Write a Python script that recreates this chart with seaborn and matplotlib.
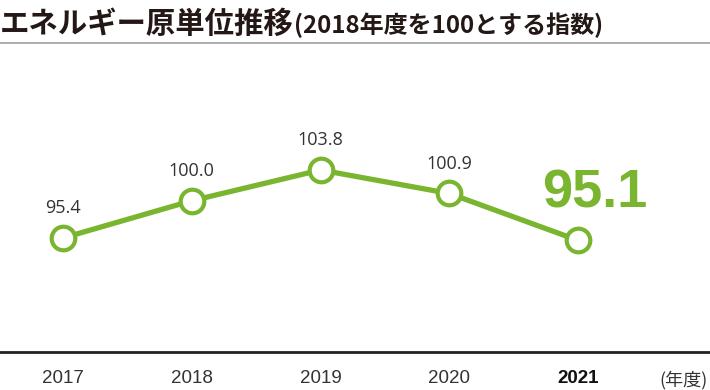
import numpy as np
import pandas as pd
import matplotlib
matplotlib.use("Agg")
import matplotlib.pyplot as plt
import seaborn as sns

# data
years = ["2017", "2018", "2019", "2020", "2021"]
index_values = [95.4, 100.0, 103.8, 100.9, 95.1]

green = "#7ab52f"
dark = "#333333"

sns.set_theme(style="white")
plt.rcParams["font.family"] = ["Noto Sans CJK JP", "DejaVu Sans"]

fig = plt.figure(figsize=(7.1, 3.9), dpi=100)
ax = fig.add_axes([0, 38 / 390, 1, 309 / 390])

df = pd.DataFrame({"pos": np.arange(len(years)), "value": index_values})
sns.lineplot(data=df, x="pos", y="value", ax=ax, color=green, lw=3.8,
             marker="o", markersize=17, markerfacecolor="white",
             markeredgecolor=green, markeredgewidth=3.0)

ax.set_xlim(-0.49, 5.025)
ax.set_ylim(81.3, 119.5)

# spines
for s in ["left", "right"]:
    ax.spines[s].set_visible(False)
ax.spines["top"].set_color("#a0a0a0")
ax.spines["top"].set_linewidth(1.2)
ax.spines["bottom"].set_color("#222222")
ax.spines["bottom"].set_linewidth(2)

ax.set_yticks([])
ax.set_xticks(df["pos"], years)
ax.tick_params(axis="x", length=0, pad=13, labelsize=13.5, colors=dark)
for lab in ax.get_xticklabels():
    lab.set_fontfamily(["Liberation Sans", "DejaVu Sans"])
ax.get_xticklabels()[-1].set_fontweight("bold")
ax.get_xticklabels()[-1].set_color("#111111")
ax.set_xlabel("")
ax.set_ylabel("")

# value labels
for i, v in enumerate(index_values[:-1]):
    ax.annotate(f"{v:.1f}", (i, v), xytext=(0, 15), textcoords="offset points",
                ha="center", va="bottom", fontsize=13, color=dark,
                family=["Open Sans", "DejaVu Sans"])
ax.annotate(f"{index_values[-1]:.1f}", (len(years) - 1, index_values[-1]),
            xytext=(12, 16), textcoords="offset points", ha="center",
            va="bottom", fontsize=39, fontweight="bold", color=green,
            family=["Liberation Sans", "DejaVu Sans"])

fig.text(708 / 710, (390 - 380) / 390, "(年度)", ha="right", va="center",
         fontsize=13, color=dark)

# title
t1 = fig.text(0.0, 1 - 33 / 390, "エネルギー原単位推移", ha="left", va="baseline",
              fontsize=21.2, fontweight="bold", color="#231815")
fig.canvas.draw()
bb = t1.get_window_extent()
fig.text(bb.x1 / fig.bbox.width, 1 - 33 / 390, "(2018年度を100とする指数)",
         ha="left", va="baseline", fontsize=17.3, fontweight="bold",
         color="#231815")

fig.savefig("out.png", dpi=100)
